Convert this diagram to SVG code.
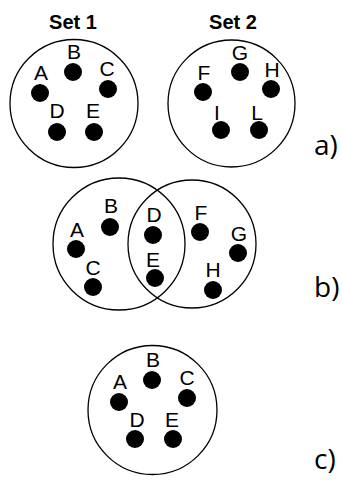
<svg xmlns="http://www.w3.org/2000/svg" width="342" height="480" viewBox="0 0 342 480">
  <style>
    .set { fill: none; stroke: #000; stroke-width: 1.3; }
    .dot { fill: #000; }
    .lbl { font-family: "Liberation Sans", Arial, sans-serif; font-size: 21px; fill: #000; text-anchor: middle; }
    .title { font-family: "Liberation Sans", Arial, sans-serif; font-size: 20px; font-weight: bold; fill: #000; text-anchor: middle; }
    .part { font-family: "Open Sans", "DejaVu Sans", sans-serif; font-size: 28px; fill: #000; }
  </style>
  <rect width="342" height="480" fill="#fff"/>

  <!-- a) two separate sets -->
  <g id="set1">
    <text class="title" x="73" y="29">Set 1</text>
    <circle class="set" cx="74" cy="103.5" r="64"/>
    <circle class="dot" cx="73" cy="72" r="9"/><text class="lbl" x="74" y="59">B</text>
    <circle class="dot" cx="40" cy="93" r="9"/><text class="lbl" x="41" y="80">A</text>
    <circle class="dot" cx="108" cy="89" r="9"/><text class="lbl" x="107" y="76">C</text>
    <circle class="dot" cx="57" cy="132" r="9"/><text class="lbl" x="57" y="118">D</text>
    <circle class="dot" cx="94" cy="132" r="9"/><text class="lbl" x="93" y="118">E</text>
  </g>
  <g id="set2">
    <text class="title" x="233" y="29">Set 2</text>
    <circle class="set" cx="231.5" cy="103.5" r="63.5"/>
    <circle class="dot" cx="240" cy="72" r="9"/><text class="lbl" x="240" y="60">G</text>
    <circle class="dot" cx="203" cy="92" r="9"/><text class="lbl" x="204" y="80">F</text>
    <circle class="dot" cx="271" cy="89" r="9"/><text class="lbl" x="272" y="77">H</text>
    <circle class="dot" cx="221" cy="130" r="9"/><text class="lbl" x="217" y="120">I</text>
    <circle class="dot" cx="259" cy="130" r="9"/><text class="lbl" x="257" y="120">L</text>
  </g>
  <text class="part" x="314" y="155">a)</text>

  <!-- b) overlapping sets -->
  <g id="overlap">
    <circle class="set" cx="119" cy="244" r="66"/>
    <circle class="set" cx="192" cy="244" r="64"/>
    <circle class="dot" cx="76" cy="249" r="9"/><text class="lbl" x="77" y="237">A</text>
    <circle class="dot" cx="110" cy="227" r="9"/><text class="lbl" x="111" y="213">B</text>
    <circle class="dot" cx="93" cy="287" r="9"/><text class="lbl" x="93" y="275">C</text>
    <circle class="dot" cx="153" cy="235" r="9"/><text class="lbl" x="154" y="222">D</text>
    <circle class="dot" cx="155" cy="278" r="9"/><text class="lbl" x="153" y="267">E</text>
    <circle class="dot" cx="200" cy="232" r="9"/><text class="lbl" x="201" y="220">F</text>
    <circle class="dot" cx="238" cy="253" r="9"/><text class="lbl" x="239" y="241">G</text>
    <circle class="dot" cx="213" cy="290" r="9"/><text class="lbl" x="213" y="277">H</text>
  </g>
  <text class="part" x="314" y="297">b)</text>

  <!-- c) single set -->
  <g id="set3">
    <circle class="set" cx="152.5" cy="410" r="64.5"/>
    <circle class="dot" cx="152" cy="380" r="9"/><text class="lbl" x="153" y="367">B</text>
    <circle class="dot" cx="119" cy="402" r="9"/><text class="lbl" x="120" y="389">A</text>
    <circle class="dot" cx="187" cy="398" r="9"/><text class="lbl" x="187" y="385">C</text>
    <circle class="dot" cx="135" cy="439" r="9"/><text class="lbl" x="137" y="427">D</text>
    <circle class="dot" cx="173" cy="439" r="9"/><text class="lbl" x="172" y="427">E</text>
  </g>
  <text class="part" x="314" y="469">c)</text>
</svg>
